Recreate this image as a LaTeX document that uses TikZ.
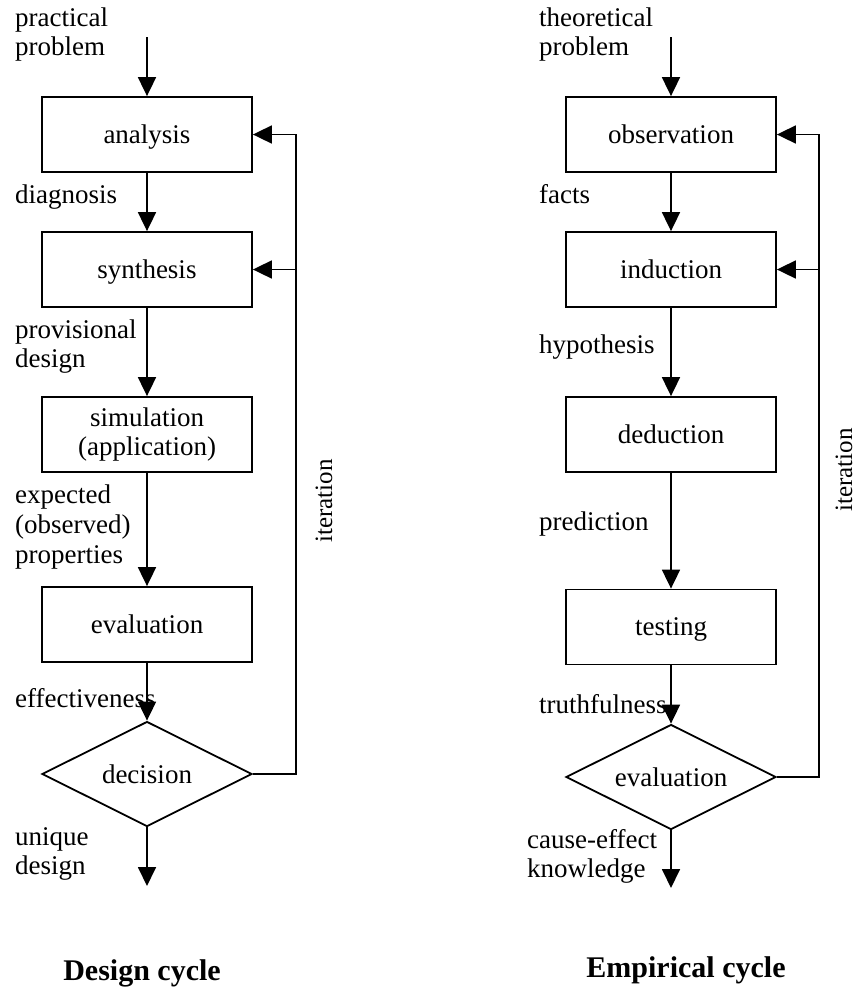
\documentclass[tikz,border=0pt]{standalone}
\usepackage{fontspec}
\setmainfont{Liberation Serif}
\usetikzlibrary{arrows.meta,shapes.geometric}
\begin{document}
\begin{tikzpicture}[x=1pt,y=-1pt,
  every node/.style={font=\fontsize{27}{29}\selectfont},
  stage/.style={draw, line width=1.8pt, minimum width=210pt, minimum height=75pt, inner sep=0pt, align=center},
  oneline/.style={text depth=0pt},
  choice/.style={draw, diamond, aspect=2, line width=1.8pt, minimum width=210pt, minimum height=105pt, inner sep=0pt, text depth=0pt},
  flow/.style={line width=1.8pt, -{Triangle[width=18pt,length=19pt]}},
  lbl/.style={anchor=base west, inner sep=0pt, align=left},
  ttl/.style={anchor=base, inner sep=0pt, font=\fontsize{30}{32}\selectfont\bfseries},
  iter/.style={anchor=base, inner sep=0pt, rotate=90, font=\fontsize{25}{27}\selectfont}]
\useasboundingbox (0,0) rectangle (856,989);

% ---------------- design cycle ----------------
\node[stage,oneline] (ana) at (147,134.5) {analysis};
\node[stage,oneline] (syn) at (147,269.5) {synthesis};
\node[stage] (sim) at (147,434.5) {simulation\\(application)};
\node[stage,oneline] (eva) at (147,624.5) {evaluation};
\node[choice] (dec) at (147,774) {decision};

\coordinate (inL) at (147,37);
\coordinate (outL) at (147,886);
\coordinate (fbL) at (296,774);

\draw[flow] (inL) -- (ana);
\draw[flow] (ana) -- (syn);
\draw[flow] (syn) -- (sim);
\draw[flow] (sim) -- (eva);
\draw[flow] (eva) -- (dec);
\draw[flow] (dec) -- (outL);
\draw[flow] (dec.east) -- (fbL) |- (ana.east);
\draw[flow] (fbL |- syn.east) -- (syn.east);

% labels: multi-line nodes are placed by the baseline of their last line
\node[lbl] (lpp) at (15,55) {practical\\problem};
\node[lbl] (ldg) at (15,203) {diagnosis};
\node[lbl] (lpd) at (15,367) {provisional\\design};
\node[lbl,font=\fontsize{27}{30}\selectfont] (lep) at (15,563) {expected\\(observed)\\properties};
\node[lbl] (lef) at (15,707) {effectiveness};
\node[lbl] (lud) at (15,874) {unique\\design};
\node[iter] (itL) at (332,501) {iteration};
\node[ttl] (tL) at (142,980) {Design cycle};

% ---------------- empirical cycle ----------------
\node[stage,oneline] (obs) at (671,134.5) {observation};
\node[stage,oneline] (ind) at (671,269.5) {induction};
\node[stage,oneline] (ded) at (671,434.5) {deduction};
\node[stage,oneline] (tst) at (671,627) {testing};
\node[choice] (evl) at (671,777) {evaluation};

\coordinate (inR) at (671,37);
\coordinate (outR) at (671,888);
\coordinate (fbR) at (819,777);

\draw[flow] (inR) -- (obs);
\draw[flow] (obs) -- (ind);
\draw[flow] (ind) -- (ded);
\draw[flow] (ded) -- (tst);
\draw[flow] (tst) -- (evl);
\draw[flow] (evl) -- (outR);
\draw[flow] (evl.east) -- (fbR) |- (obs.east);
\draw[flow] (fbR |- ind.east) -- (ind.east);

\node[lbl] (rtp) at (539,55) {theoretical\\problem};
\node[lbl] (rfa) at (539,203) {facts};
\node[lbl] (rhy) at (539,353) {hypothesis};
\node[lbl] (rpr) at (539,530) {prediction};
\node[lbl] (rtr) at (539,713) {truthfulness};
\node[lbl] (rck) at (527,877) {cause-effect\\knowledge};
\node[iter] (itR) at (852,470) {iteration};
\node[ttl] (tR) at (686,977) {Empirical cycle};
\end{tikzpicture}
\end{document}
